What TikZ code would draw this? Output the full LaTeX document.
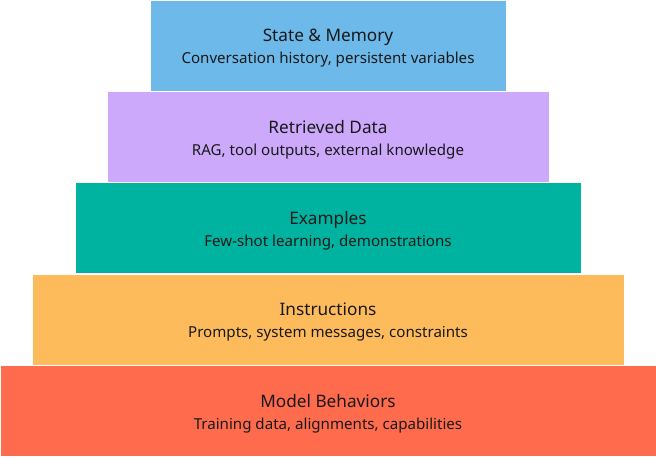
\documentclass[tikz,border=0pt]{standalone}
\usepackage{fontspec}
\setmainfont{Noto Sans}
\definecolor{cblue}{HTML}{6CB9EA}
\definecolor{cpurple}{HTML}{CDA9FC}
\definecolor{cteal}{HTML}{00B3A1}
\definecolor{corange}{HTML}{FDBB5B}
\definecolor{cred}{HTML}{FF6B4D}
\tikzset{
  layer/.style={draw=white, line width=0.6pt, inner sep=0pt, minimum height=91pt},
  ltitle/.style={anchor=base, inner sep=0pt, font=\fontsize{17.2}{20}\selectfont, text=black!90},
  lsub/.style={anchor=base, inner sep=0pt, font=\fontsize{15.1}{18}\selectfont, text=black!90}
}
\begin{document}
\begin{tikzpicture}[x=1pt,y=1pt]
\useasboundingbox[fill=white] (0,0) rectangle (656,-458);
\node[layer, fill=cblue, minimum width=356pt] (sm) at (328,-45.5) {};
\node[layer, fill=cpurple, minimum width=442pt] (rd) at (328,-137) {};
\node[layer, fill=cteal, minimum width=506pt] (ex) at (328,-228) {};
\node[layer, fill=corange, minimum width=592pt] (in) at (328,-319.5) {};
\node[layer, fill=cred, minimum width=656pt] (mb) at (328,-411) {};
\foreach \n/\t/\s in {sm/State \& Memory/{Conversation history, persistent variables},
  rd/Retrieved Data/{RAG, tool outputs, external knowledge},
  ex/Examples/{Few-shot learning, demonstrations},
  in/Instructions/{Prompts, system messages, constraints},
  mb/Model Behaviors/{Training data, alignments, capabilities}}{
  \node[ltitle] (\n t) at ([yshift=4pt]\n.center) {\t};
  \node[lsub] (\n s) at ([yshift=-18pt]\n.center) {\s};
}
\end{tikzpicture}
\end{document}
